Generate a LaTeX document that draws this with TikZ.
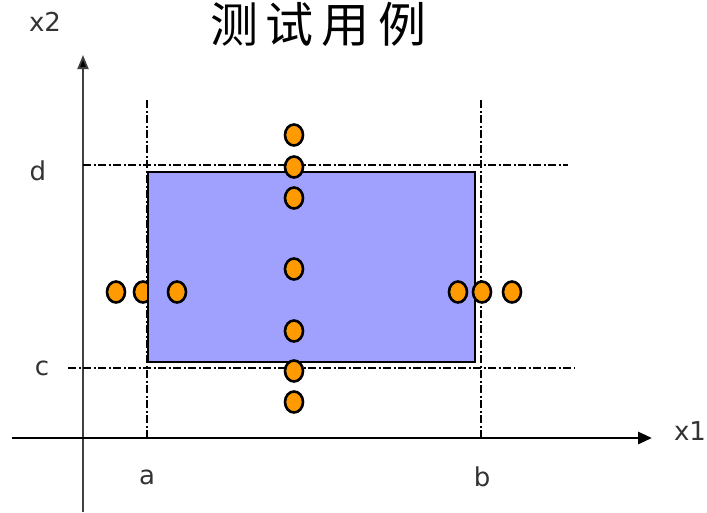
\documentclass[tikz,border=0pt]{standalone}
\usepackage{fontspec}
\setmainfont{DejaVu Sans}
\newfontfamily\cjk{Noto Sans CJK SC}
\usetikzlibrary{arrows.meta}
\definecolor{dotorange}{RGB}{255,155,0}
\definecolor{boxblue}{RGB}{160,160,255}
\begin{document}
\begin{tikzpicture}[x=1pt,y=-1pt,
    dot/.style={draw=black, line width=2.6pt, fill=dotorange},
    guide/.style={line width=1.8pt, dash pattern=on 8pt off 2.5pt on 2pt off 2.5pt},
    lbl/.style={text=black!80, font=\fontsize{26}{26}\selectfont}]
    \useasboundingbox (0,0) rectangle (707,512);

    \node[font=\cjk\fontsize{48}{48}\selectfont] (title) at (318,24) {测\hspace{8pt}试\hspace{8pt}用\hspace{8pt}例};

    \coordinate (origin) at (83,438);
    \draw[line width=1.8pt, black!75, -{Triangle[length=14pt,width=11pt,fill=black]}] (83,512) -- (83,55) coordinate (ytip);
    \draw[line width=2.8pt, -{Triangle[length=14pt,width=12pt]}] (12,438) -- (652,438) coordinate (xtip);
    \node[lbl] (x1) at (690,431) {x1};
    \node[lbl] (x2) at (45,22) {x2};

    \node[lbl] (a) at (147,477) {a};
    \node[lbl] (b) at (482,477) {b};
    \node[lbl] (c) at (42,368) {c};
    \node[lbl] (d) at (38,171) {d};

    \draw[guide] (147,100) -- (147,438);
    \draw[guide] (481,100) -- (481,438);
    \draw[guide] (83,165) -- (568,165);
    \draw[guide] (68,368) -- (575,368);

    \draw[dot] (143,292) ellipse (9pt and 10.5pt);
    \filldraw[fill=boxblue, line width=2.6pt] (148,172) rectangle (475,362);

    \foreach \y in {135,167,198,269,331,371,402}
        \draw[dot] (294,\y) ellipse (9pt and 10.5pt);
    \foreach \x in {116,177,458,482,512}
        \draw[dot] (\x,292) ellipse (9pt and 10.5pt);
\end{tikzpicture}
\end{document}
